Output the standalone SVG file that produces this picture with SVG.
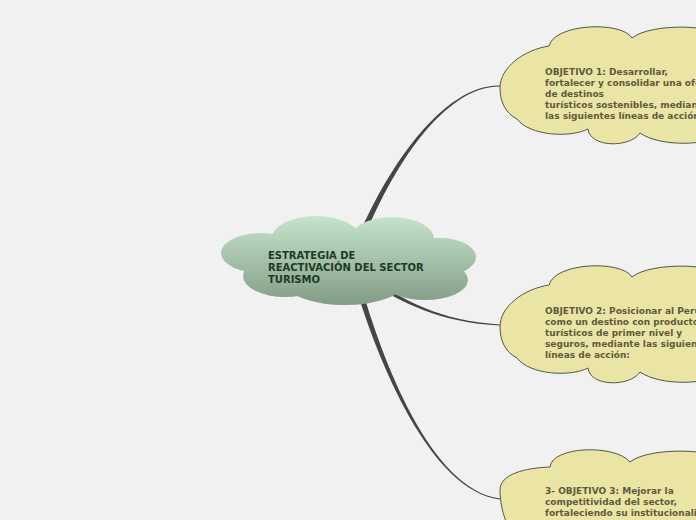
<svg xmlns="http://www.w3.org/2000/svg" width="696" height="520" viewBox="0 0 696 520">
  <defs>
    <linearGradient id="gCentral" gradientUnits="userSpaceOnUse" x1="0" y1="216" x2="0" y2="305">
      <stop offset="0" stop-color="#c5e4cc"/>
      <stop offset="1" stop-color="#849c86"/>
    </linearGradient>
    <style>
      .conn { fill: #454545; stroke: none; }
      .cloud { fill: #ebe5a5; stroke: #555549; stroke-width: 1; }
      .ctxt { font-family: "DejaVu Sans", Verdana, sans-serif; font-weight: bold; font-size: 10px; fill: #1f3a24; }
      .otxt { font-family: "DejaVu Sans", Verdana, sans-serif; font-weight: bold; font-size: 9px; fill: #5e5a3c; }
    </style>
  </defs>
  <rect x="0" y="0" width="696" height="520" fill="#f1f1f1"/>

  <g id="connectors">
    <path class="conn" d="M 360.8,246.1 C 392,165.8 445,85.9 500,86.5 L 500,85.5 C 445,84.1 388,164.2 355.2,243.9 Z"/>
    <path class="conn" d="M 368.9,281.7 C 399.1,301.3 440,322.8 500,325.5 L 500,324.5 C 440,321.2 400.9,298.7 371.1,278.3 Z"/>
    <path class="conn" d="M 355.3,285.8 C 377.8,360.6 429.9,490.9 499.9,499.5 L 500.1,498.5 C 430.1,489.1 382.2,359.4 360.7,284.2 Z"/>
  </g>

  <g id="central">
    <g fill="url(#gCentral)">
      <ellipse cx="262" cy="253" rx="41" ry="20"/>
      <ellipse cx="316" cy="238" rx="44" ry="22"/>
      <ellipse cx="392" cy="239" rx="42" ry="22"/>
      <ellipse cx="440" cy="257" rx="36" ry="19"/>
      <ellipse cx="425" cy="280" rx="43" ry="20"/>
      <ellipse cx="345" cy="284" rx="58" ry="21"/>
      <ellipse cx="285" cy="276" rx="42" ry="21"/>
      <ellipse cx="348" cy="262" rx="100" ry="28"/>
    </g>
    <text class="ctxt" x="268" y="259">ESTRATEGIA DE</text>
    <text class="ctxt" x="268" y="271">REACTIVACIÓN DEL SECTOR</text>
    <text class="ctxt" x="268" y="283">TURISMO</text>
  </g>

  <g id="obj1">
    <path class="cloud" transform="translate(0,-239)" d="M 500,327 C 500,306 524,289 549,285 C 555,262 622,260 632,277 C 650,262 720,262 730,280 L 730,370 C 710,386 660,386 640,372 C 630,387 590,387 588,368 C 570,377 530,375 517,358 C 505,352 500,340 500,327 Z"/>
    <text class="otxt" x="545" y="75">OBJETIVO 1: Desarrollar,</text>
    <text class="otxt" x="545" y="86">fortalecer y consolidar una oferta</text>
    <text class="otxt" x="545" y="97">de destinos</text>
    <text class="otxt" x="545" y="108">turísticos sostenibles, mediante</text>
    <text class="otxt" x="545" y="119">las siguientes líneas de acción:</text>
  </g>

  <g id="obj2">
    <path class="cloud" d="M 500,327 C 500,306 524,289 549,285 C 555,262 622,260 632,277 C 650,262 720,262 730,280 L 730,370 C 710,386 660,386 640,372 C 630,387 590,387 588,368 C 570,377 530,375 517,358 C 505,352 500,340 500,327 Z"/>
    <text class="otxt" x="545" y="314">OBJETIVO 2: Posicionar al Perú</text>
    <text class="otxt" x="545" y="325">como un destino con productos</text>
    <text class="otxt" x="545" y="336">turísticos de primer nivel y</text>
    <text class="otxt" x="545" y="347">seguros, mediante las siguientes</text>
    <text class="otxt" x="545" y="358">líneas de acción:</text>
  </g>

  <g id="obj3">
    <path class="cloud" d="M 500,490 C 500,474 525,468 550,467 C 552,446 615,444 630,462 C 648,447 720,447 730,465 L 730,540 L 520,540 C 505,530 500,505 500,490 Z"/>
    <text class="otxt" x="545" y="494">3- OBJETIVO 3: Mejorar la</text>
    <text class="otxt" x="545" y="505">competitividad del sector,</text>
    <text class="otxt" x="545" y="516">fortaleciendo su institucionalidad</text>
  </g>
</svg>
